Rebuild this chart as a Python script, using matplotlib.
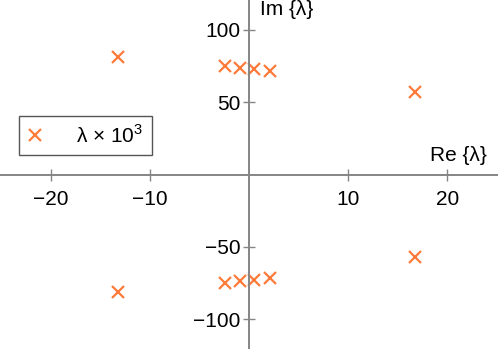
import matplotlib
matplotlib.use('Agg')
import matplotlib.pyplot as plt

plt.rcParams['font.family'] = ['Liberation Sans', 'DejaVu Sans']
plt.rcParams['font.size'] = 15
plt.rcParams['mathtext.fontset'] = 'custom'
plt.rcParams['mathtext.rm'] = 'Liberation Sans'

# eigenvalues (scaled by 1e3)
re_vals = [-13.2, -2.4, -0.95, 0.55, 2.1, 16.75,
           -13.2, -2.4, -0.95, 0.55, 2.1, 16.75]
im_vals = [81.5, 74.8, 73.7, 72.9, 71.7, 56.9,
           -81.5, -74.8, -73.7, -72.9, -71.7, -56.9]
x_ticks = [-20, -10, 10, 20]
y_ticks = [-100, -50, 50, 100]

ORANGE = '#ff7b3a'
GRAY = '#858585'

fig = plt.figure(figsize=(4.98, 3.49), dpi=100)
ax = fig.add_axes([0, 0, 1, 1])

ax.plot(re_vals, im_vals, ls='none', marker='x', ms=9, mew=1.6,
        color=ORANGE, label=r'λ × 10$^\mathregular{3}$')

ax.set_xlim(-25.1, 25.1)
ax.set_ylim(-120.7, 120.7)

for side in ['top', 'right']:
    ax.spines[side].set_visible(False)
for side in ['left', 'bottom']:
    ax.spines[side].set_position(('data', 0))
    ax.spines[side].set_color(GRAY)
    ax.spines[side].set_linewidth(1.4)

ax.set_xticks(x_ticks)
ax.set_yticks(y_ticks)
ax.tick_params(axis='both', direction='inout', length=8, width=1, color=GRAY)
ax.tick_params(axis='x', pad=7)
ax.tick_params(axis='y', pad=2)

ax.text(18.2, 9.0, 'Re {λ}', ha='left', va='baseline')
ax.text(1.15, 110.5, 'Im {λ}', ha='left', va='baseline')

leg = ax.legend(loc='upper left', bbox_to_anchor=(19 / 498, 1 - 115.7 / 349),
                borderaxespad=0, fancybox=False, framealpha=1,
                edgecolor='#555555', handlelength=0.75, handletextpad=1.6,
                borderpad=0.4, numpoints=1)
leg.get_frame().set_linewidth(1.0)

fig.savefig('out.png', dpi=100)
